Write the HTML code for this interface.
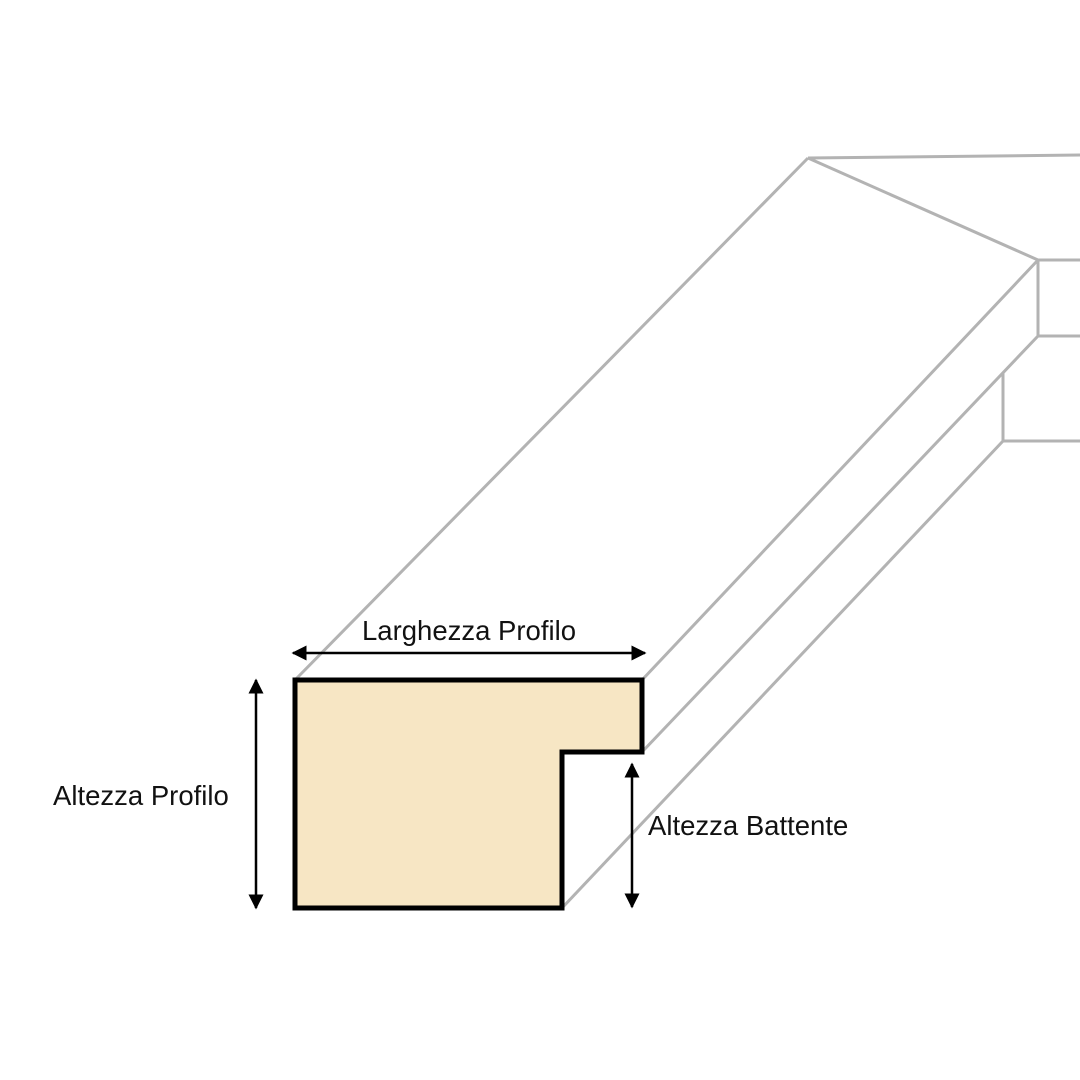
<!DOCTYPE html>
<html><head><meta charset="utf-8"><style>
html,body{margin:0;padding:0;background:#fff;}
svg{display:block;}
text{font-family:"Liberation Sans",sans-serif;font-size:27.5px;fill:#111;}
</style></head><body>
<svg width="1080" height="1080" viewBox="0 0 1080 1080" xmlns="http://www.w3.org/2000/svg">
<defs>
<marker id="a" viewBox="0 0 10 10" refX="9" refY="5" markerWidth="6" markerHeight="6" orient="auto-start-reverse">
<path d="M0,0 L10,5 L0,10 z" fill="#000"/></marker>
</defs>
<g stroke="#b3b3b3" stroke-width="3" fill="none">
<line x1="295" y1="680" x2="808" y2="158"/>
<line x1="808" y1="158" x2="1080" y2="155"/>
<line x1="808" y1="158" x2="1038" y2="260"/>
<line x1="1038" y1="260" x2="1080" y2="260"/>
<line x1="1038" y1="260" x2="1038" y2="336"/>
<line x1="1038" y1="336" x2="1080" y2="336"/>
<line x1="642" y1="680" x2="1038" y2="260"/>
<line x1="642" y1="752" x2="1038" y2="336"/>
<line x1="1003" y1="372" x2="1003" y2="441"/>
<line x1="1003" y1="441" x2="1080" y2="441"/>
<line x1="562" y1="908" x2="1003" y2="441"/>
</g>
<polygon points="295,680 642,680 642,752 562,752 562,908 295,908" fill="#f7e6c4" stroke="#000" stroke-width="5"/>
<g stroke="#000" stroke-width="2.5">
<line x1="293" y1="653" x2="645" y2="653" marker-start="url(#a)" marker-end="url(#a)"/>
<line x1="256" y1="680" x2="256" y2="908" marker-start="url(#a)" marker-end="url(#a)"/>
<line x1="632" y1="764" x2="632" y2="907" marker-start="url(#a)" marker-end="url(#a)"/>
</g>
<text x="469" y="640" text-anchor="middle">Larghezza Profilo</text>
<text x="53" y="805">Altezza Profilo</text>
<text x="648" y="835">Altezza Battente</text>
</svg>
</body></html>
